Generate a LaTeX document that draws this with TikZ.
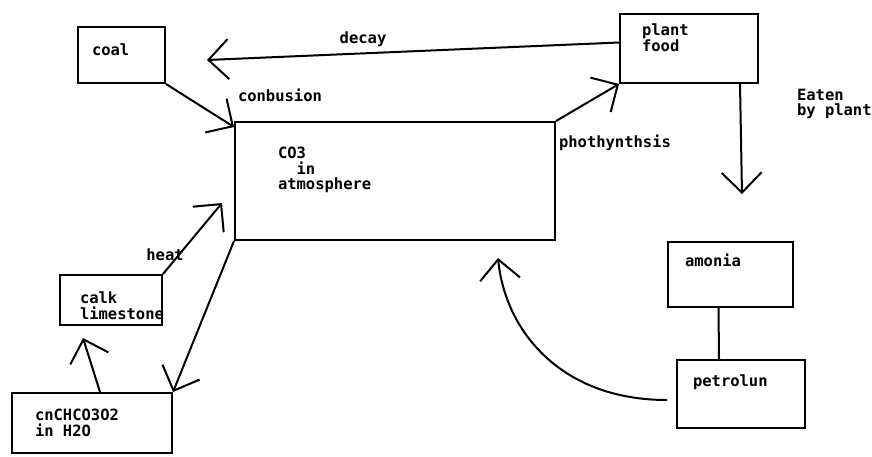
\documentclass[tikz,border=0pt]{standalone}
\usepackage{fontspec}
\setmonofont[BoldFont={DejaVu Sans Mono Bold}]{DejaVu Sans Mono}
\usepackage{tikz}
\usetikzlibrary{calc, arrows.meta}

\begin{document}
\begin{tikzpicture}[x=1pt, y=-1pt, line width=2pt,
  box/.style={draw, inner sep=0pt},
  txt/.style={font=\ttfamily\bfseries\fontsize{15.5}{15.5}\selectfont, align=left, inner sep=0pt},
  inlbl/.style={txt, anchor=north west},
  arr/.style={-{Straight Barb[length=20pt, width=40pt, line width=2pt]}}]
\useasboundingbox (0,0) rectangle (872,456);
% boxes
\node[box, minimum width=87pt, minimum height=56pt,
  label={[inlbl, xshift=14pt, yshift=-17pt]north west:coal}] (coal) at (121.5,55) {};
\node[box, minimum width=320pt, minimum height=118pt,
  label={[inlbl, xshift=43pt, yshift=-25pt]north west:CO3\\~~in\\atmosphere}] (co2) at (395,181) {};
\node[box, minimum width=138pt, minimum height=69pt,
  label={[inlbl, xshift=22pt, yshift=-10pt]north west:plant\\food}] (food) at (689,48.5) {};
\node[box, minimum width=125pt, minimum height=65pt,
  label={[inlbl, xshift=17pt, yshift=-12pt]north west:amonia}] (amonia) at (730.5,274.5) {};
\node[box, minimum width=128pt, minimum height=68pt,
  label={[inlbl, xshift=16pt, yshift=-15pt]north west:petrolun}] (petrol) at (741,394) {};
\node[box, minimum width=102pt, minimum height=50pt,
  label={[inlbl, xshift=20pt, yshift=-17pt]north west:calk\\limestone}] (calk) at (111,300) {};
\node[box, minimum width=160pt, minimum height=60pt,
  label={[inlbl, xshift=23pt, yshift=-16pt]north west:cnCHCO3O2\\in H2O}] (cn) at (92,423) {};
% free labels
\node[txt] (decay) at (363,39) {decay};
\node[txt, anchor=west] (conbusion) at (237,95) {conbusion};
\node[txt, anchor=west] (photo) at (558,143) {phothynthsis};
\node[txt, anchor=north west] (eaten) at (796,88) {Eaten\\by plant};
\node[txt] (heat) at (165,255) {heat};
% arrow ends
\coordinate (decaytip) at (207,60);
\coordinate (eatentip) at (742,194);
\coordinate (heattip) at (222,203);
\coordinate (curvetip) at (498,258);
% connectors
\draw[arr] ($(food.west)+(0,-6)$) -- (decaytip);
\draw[arr] (coal.south east) -- ($(co2.north west)+(0,6)$);
\draw[arr] (co2.north east) -- (food.south west);
\draw[arr] ($(food.south)+(51,0)$) -- (eatentip);
\draw[arr] (co2.south west) -- (cn.north east);
\draw[arr] ($(cn.north)+(8,0)$) -- ($(calk.south)+(-28,12)$);
\draw[arr] (calk.north east) -- (heattip);
\draw ($(amonia.south)+(-12,0)$) -- ($(petrol.north)+(-22,0)$);
\draw[arr] ($(petrol.west)+(-9,6)$) .. controls (560,400) and (505,330) .. (curvetip);
\end{tikzpicture}
\end{document}
